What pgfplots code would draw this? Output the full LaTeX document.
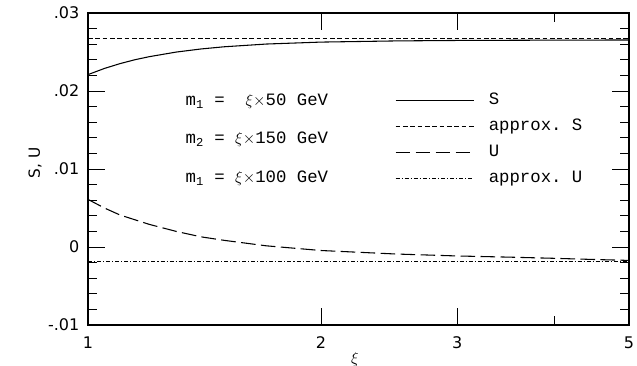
\documentclass[border=0pt]{standalone}
\usepackage{pgfplots}
\pgfplotsset{compat=1.18}
\usepackage{fontspec}
\setmainfont{DejaVu Sans}
\setmonofont{Liberation Mono}
\begin{document}
\begin{tikzpicture}
\begin{axis}[
  name=ax,
  scale only axis,
  width=405.75pt, height=234pt,
  xmode=log,
  xmin=1, xmax=5, ymin=-0.01, ymax=0.03,
  xtick={1,2,3,5}, xticklabels={1,2,3,5},
  minor xtick={4},
  ytick={-0.01,0,0.01,0.02,0.03},
  yticklabels={-.01,0,.01,.02,.03},
  minor y tick num=4,
  xtick pos=both, ytick pos=both,
  tick align=inside,
  major tick length=13pt, minor tick length=6.5pt,
  every tick/.style={black, line width=0.7pt},
  axis line style={line width=0.8pt},
  /pgf/number format/assume math mode=true,
  tick label style={font=\fontsize{12}{14}\selectfont},
  yticklabel style={xshift=-3pt},
  xticklabel style={yshift=-5pt},
  scaled y ticks=false,
  xlabel={$\xi$},
  xlabel style={at={(axis description cs:0.4935,-0.112)}, anchor=center, font=\fontsize{12}{14}\selectfont},
  ylabel={S, U},
  ylabel style={at={(axis description cs:-0.098,0.52)}, anchor=center, font=\fontsize{11.5}{13}\selectfont},
  legend cell align=left,
  legend image code/.code={\draw[#1] (0pt,0pt) -- (58.5pt,0pt);},
  legend style={at={(axis description cs:0.567,0.745)}, anchor=north west, draw=none, fill=none,
    font=\ttfamily\fontsize{13}{15}\selectfont, row sep=7.5pt, inner sep=0pt,
    nodes={inner ysep=0pt, inner xsep=11pt, text height=9pt, text depth=3pt}},
]
\addplot[black, line width=0.8pt] coordinates {
(1,0.0221) (1.05,0.02289) (1.1,0.02351) (1.15,0.02401) (1.2,0.02440) (1.3,0.02499)
(1.4,0.02539) (1.5,0.02567) (1.7,0.02602) (2.0,0.02627) (2.5,0.02642) (3,0.02648)
(4,0.02652) (5,0.02654)};
\addlegendentry{S}
\addplot[black, line width=0.8pt, dash pattern=on 3.5pt off 2pt] coordinates {
(1,0.02668) (5,0.02668)};
\addlegendentry{approx. S}
\addplot[black, line width=0.8pt, dash pattern=on 11pt off 4pt] coordinates {
(1,0.0061) (1.05,0.0050) (1.1,0.0041) (1.2,0.0029) (1.3,0.0020) (1.4,0.0013)
(1.5,0.00085) (1.7,0.00015) (2.0,-0.00045) (2.5,-0.0009) (3,-0.00115)
(3.5,-0.0013) (4,-0.00145) (4.5,-0.0016) (5,-0.00172)};
\addlegendentry{U}
\addplot[black, line width=0.8pt, dash pattern=on 3pt off 1.5pt on 0.8pt off 1.5pt] coordinates {
(1,-0.0019) (5,-0.0019)};
\addlegendentry{approx. U}
\node[anchor=west, font=\ttfamily\fontsize{13}{15}\selectfont, inner sep=0pt] at (axis description cs:0.18,0.717) {m\textsubscript{1} =~ $\xi$$\times$50 GeV};
\node[anchor=west, font=\ttfamily\fontsize{13}{15}\selectfont, inner sep=0pt] at (axis description cs:0.18,0.594) {m\textsubscript{2} = $\xi$$\times$150 GeV};
\node[anchor=west, font=\ttfamily\fontsize{13}{15}\selectfont, inner sep=0pt] at (axis description cs:0.18,0.469) {m\textsubscript{1} = $\xi$$\times$100 GeV};
\end{axis}
\pgfresetboundingbox
\path ([xshift=-66pt,yshift=-30.75pt]ax.south west) rectangle ([xshift=6pt,yshift=9.75pt]ax.north east);
\end{tikzpicture}
\end{document}
